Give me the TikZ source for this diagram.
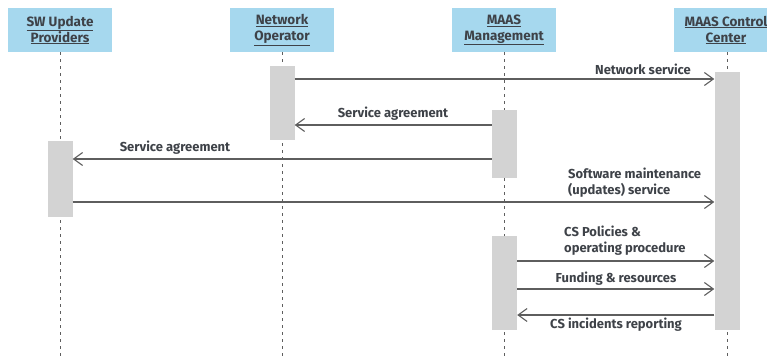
\documentclass[tikz,border=0pt]{standalone}
\usepackage{fontspec}
\setmainfont{Fira Sans}
\usetikzlibrary{arrows.meta}
\definecolor{headfill}{HTML}{A6D8EE}
\definecolor{bargray}{HTML}{D3D3D3}
\definecolor{inkgray}{HTML}{3E4248}
\definecolor{linegray}{HTML}{5E5E5E}
\begin{document}
\begin{tikzpicture}[x=1pt,y=-1pt,
  head/.style={fill=headfill, minimum width=104pt, minimum height=44pt, align=center,
    inner sep=0pt, text=inkgray, font=\bfseries\fontsize{13.5}{16}\selectfont},
  life/.style={draw=linegray, line width=1pt, dash pattern=on 3pt off 4pt},
  actbar/.style={fill=bargray, draw=none, minimum width=25pt, inner sep=0pt, anchor=north},
  msg/.style={draw=linegray, line width=1.1pt, -{Straight Barb[length=9pt,width=13pt,line width=1.1pt]}},
  lbl/.style={text=inkgray, inner sep=0pt, font=\bfseries\fontsize{13}{16}\selectfont}]
\clip (0,0) rectangle (767,358);
\useasboundingbox (0,0) rectangle (767,358);

% participants
\node[head] (sw)  at (60,30)  {\underline{SW Update}\\\underline{Providers}};
\node[head] (no)  at (282,30) {\underline{Network}\\\underline{Operator}};
\node[head] (mm)  at (504,30) {\underline{MAAS}\\\underline{Management}};
\node[head] (mcc) at (726,30) {\underline{MAAS Control}\\\underline{Center}};

% lifelines
\coordinate (swend)  at (60,358);
\coordinate (noend)  at (282,358);
\coordinate (mmend)  at (504.5,358);
\coordinate (mccend) at (727,358);
\draw[life] (sw.south)  -- (swend);
\draw[life] (no.south)  -- (noend);
\draw[life] (mm.south -| mmend)  -- (mmend);
\draw[life] (mcc.south -| mccend) -- (mccend);

% activation bars
\node[actbar, minimum height=74pt]  (nob)  at (282,66)   {};
\node[actbar, minimum height=258pt] (mccb) at (727,72)   {};
\node[actbar, minimum height=68pt]  (mmb1) at (504.5,110) {};
\node[actbar, minimum height=76pt]  (swb)  at (60,141)   {};
\node[actbar, minimum height=94pt]  (mmb2) at (504.5,236) {};

% messages
\draw[msg] (nob.east |- 0,79)  -- (mccb.west |- 0,79);
\draw[msg] (mmb1.west |- 0,125) -- (nob.east |- 0,125);
\draw[msg] (mmb1.west |- 0,159) -- (swb.east |- 0,159);
\draw[msg] (swb.east |- 0,202) -- (mccb.west |- 0,202);
\draw[msg] (mmb2.east |- 0,261) -- (mccb.west |- 0,261);
\draw[msg] (mmb2.east |- 0,289) -- (mccb.west |- 0,289);
\draw[msg] (mccb.west |- 0,315) -- (mmb2.east |- 0,315);

% message labels
\node[lbl] (l1) at (643,69)  {Network service};
\node[lbl] (l2) at (393,114) {Service agreement};
\node[lbl] (l3) at (175,148) {Service agreement};
\node[lbl, anchor=west, align=left] (l4) at (568,183) {Software maintenance\\(updates) service};
\node[lbl, anchor=west, align=left] (l5) at (564,241) {CS Policies \&\\operating procedure};
\node[lbl] (l6) at (616,279) {Funding \& resources};
\node[lbl] (l7) at (616,325) {CS incidents reporting};
\end{tikzpicture}
\end{document}
